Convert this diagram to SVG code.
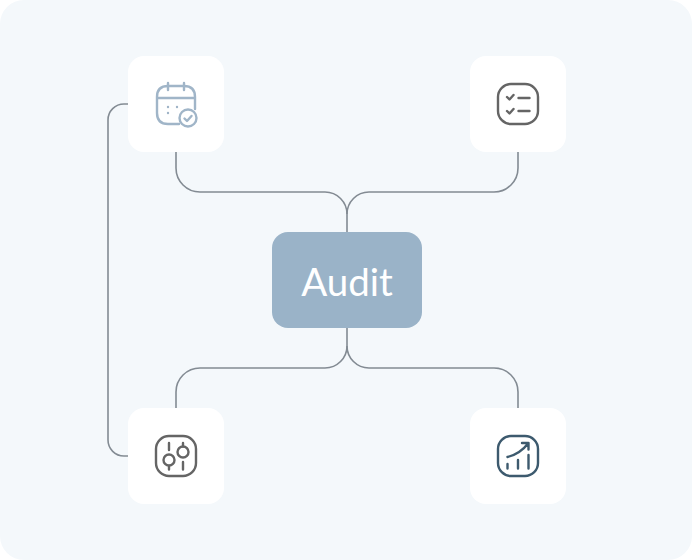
<svg xmlns="http://www.w3.org/2000/svg" width="692" height="560" viewBox="0 0 692 560">
<style>
.card{fill:#fff}
.conn{fill:none;stroke:#838b93;stroke-width:1.6}
.ic{fill:none;stroke-width:2.400;stroke-linecap:round;stroke-linejoin:round}
.g{stroke:#656565}
.b{stroke:#a0b5c8}
.d{stroke:#3d5a6e}
text{font-family:"Lato","Open Sans",sans-serif;font-size:38.500px;fill:#fff}
</style>
<rect width="692" height="560" rx="24" fill="#f4f8fb"/>
<g id="connectors" class="conn">
<path d="M176 152V168A24 24 0 0 0 200 192H325A22 22 0 0 1 347 214V232"/>
<path d="M518 152V168A24 24 0 0 1 494 192H369A22 22 0 0 0 347 214"/>
<path d="M347 328V346A22 22 0 0 1 325 368H200A24 24 0 0 0 176 392V408"/>
<path d="M347 346A22 22 0 0 0 369 368H494A24 24 0 0 1 518 392V408"/>
<path d="M128 104H124A16 16 0 0 0 108 120V440A16 16 0 0 0 124 456H128"/>
</g>
<g id="node-calendar">
<rect class="card" x="128" y="56" width="96" height="96" rx="16"/>
<g class="ic b">
<path d="M179 124H168Q157 124 157 113V97Q157 86 168 86H184Q195 86 195 97V109"/>
<path d="M158 98H194M168 83V90M184 83V90"/>
<circle cx="188" cy="118" r="8.500"/>
<path d="M184.500 118.500L187 121L191.500 116"/>
<path d="M168 107H168.010M177 107H177.010M168 113H168.010"/>
</g>
</g>
<g id="node-checklist">
<rect class="card" x="470" y="56" width="96" height="96" rx="16"/>
<g class="ic g">
<rect x="498" y="84" width="40" height="40" rx="13"/>
<path d="M507 97L509.500 99.500L513.500 95M507 111L509.500 113.500L513.500 109M518.500 98H529.500M518.500 111H529.500"/>
</g>
</g>
<g id="node-sliders">
<rect class="card" x="128" y="408" width="96" height="96" rx="16"/>
<g class="ic g">
<rect x="156" y="436" width="40" height="40" rx="13"/>
<path d="M169 443V450M169 466V469.500M183 443V446.500M183 462V469.500"/>
<circle cx="169" cy="460" r="5.500"/>
<circle cx="183" cy="452" r="5.500"/>
</g>
</g>
<g id="node-chart">
<rect class="card" x="470" y="408" width="96" height="96" rx="16"/>
<g class="ic d">
<rect x="498" y="436" width="40" height="40" rx="13"/>
<path d="M507.500 457Q520 454 528.500 443M522 443H528.500V449.500M507.500 464V468.500M518 460V468.500M528.500 455V468.500"/>
</g>
</g>
<g id="node-audit">
<rect x="272" y="232" width="150" height="96" rx="16" fill="#9ab3c8"/>
<text x="347" y="296" text-anchor="middle">Audit</text>
</g>
</svg>
